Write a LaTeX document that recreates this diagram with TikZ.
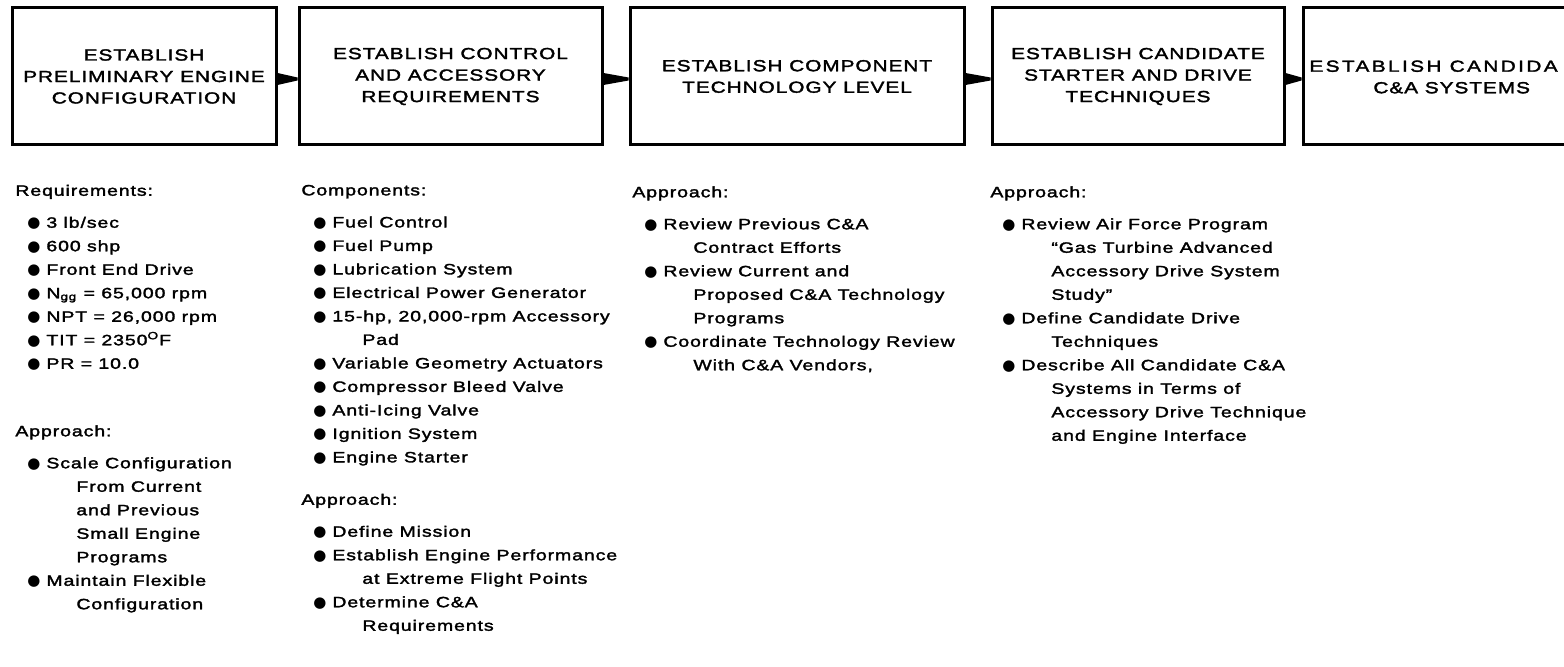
\documentclass[tikz,border=0pt]{standalone}
\usepackage{fontspec}
\setmainfont{Liberation Sans}[FakeStretch=1.3, LetterSpace=6, FakeBold=2]
\newfontfamily\dotfont{DejaVu Sans}
\newcommand{\blt}{\hspace*{6pt}\makebox[9.5pt][l]{\dotfont ●}}
\newcommand{\cnt}{\hspace*{30.5pt}}

\tikzset{
	stage/.style={draw, line width=1.5pt, inner sep=0pt, minimum height=68.5pt, align=center, font=\fontsize{8}{10.75}\selectfont},
	stagetext/.style={inner sep=0pt, align=left, font=\fontsize{8}{10.75}\selectfont},
	notes/.style={anchor=north west, inner sep=0pt, align=left, font=\fontsize{7.5}{11.75}\selectfont},
}

\begin{document}
\begin{tikzpicture}[x=0.5pt, y=-0.5pt]
	\useasboundingbox (0,0) rectangle (1564,667);
	\clip (0,0) rectangle (1564,667);

	% the five stages
	\node[stage, minimum width=132pt] (b1) at (144,76.5) {ESTABLISH\\PRELIMINARY ENGINE\\CONFIGURATION};
	\node[stage, minimum width=151.5pt] (b2) at (450.5,76.5) {ESTABLISH CONTROL\\AND ACCESSORY\\REQUIREMENTS};
	\node[stage, minimum width=167pt] (b3) at (797,76.5) {ESTABLISH COMPONENT\\TECHNOLOGY LEVEL};
	\node[stage, minimum width=146pt] (b4) at (1138,76.5) {ESTABLISH CANDIDATE\\STARTER AND DRIVE\\TECHNIQUES};
	\node[stage, minimum width=198.5pt] (b5) at (1501.5,76.5) {};
	\node[stagetext, anchor=west] (b5t) at (1309,77) {{\addfontfeature{LetterSpace=15}ESTABLISH CANDIDA}\\\hspace*{32pt}C\&A SYSTEMS};

	% tapered links
	\fill ([yshift=1.75pt]b1.east) -- ([yshift=-0.5pt]b2.west) -- ([yshift=-2pt]b2.west) -- ([yshift=-4.25pt]b1.east) -- cycle;
	\fill ([yshift=1.75pt]b2.east) -- ([yshift=-0.5pt]b3.west) -- ([yshift=-2pt]b3.west) -- ([yshift=-4.25pt]b2.east) -- cycle;
	\fill ([yshift=1.75pt]b3.east) -- ([yshift=-0.5pt]b4.west) -- ([yshift=-2pt]b4.west) -- ([yshift=-4.25pt]b3.east) -- cycle;
	\fill ([yshift=1.75pt]b4.east) -- ([yshift=-0.5pt]b5.west) -- ([yshift=-2pt]b5.west) -- ([yshift=-4.25pt]b4.east) -- cycle;

	% notes under the stages
	\node[notes] (req) at (15,184.5) {Requirements:\\[4.25pt]
		\blt 3 lb/sec\\
		\blt 600 shp\\
		\blt Front End Drive\\
		\blt N\textsubscript{gg} = 65,000 rpm\\
		\blt NPT = 26,000 rpm\\
		\blt TIT = 2350\textsuperscript{O}F\\
		\blt PR = 10.0};
	\node[notes] (reqapp) at (15,425) {Approach:\\[4.25pt]
		\blt Scale Configuration\\
		\cnt From Current\\
		\cnt and Previous\\
		\cnt Small Engine\\
		\cnt Programs\\
		\blt Maintain Flexible\\
		\cnt Configuration};

	\node[notes] (comp) at (301,184.5) {Components:\\[4.25pt]
		\blt Fuel Control\\
		\blt Fuel Pump\\
		\blt Lubrication System\\
		\blt Electrical Power Generator\\
		\blt 15-hp, 20,000-rpm Accessory\\
		\cnt Pad\\
		\blt Variable Geometry Actuators\\
		\blt Compressor Bleed Valve\\
		\blt Anti-Icing Valve\\
		\blt Ignition System\\
		\blt Engine Starter};
	\node[notes] (compapp) at (301,493.5) {Approach:\\[4.25pt]
		\blt Define Mission\\
		\blt Establish Engine Performance\\
		\cnt at Extreme Flight Points\\
		\blt Determine C\&A\\
		\cnt Requirements};

	\node[notes] (techapp) at (632,186) {Approach:\\[4.25pt]
		\blt Review Previous C\&A\\
		\cnt Contract Efforts\\
		\blt Review Current and\\
		\cnt Proposed C\&A Technology\\
		\cnt Programs\\
		\blt Coordinate Technology Review\\
		\cnt With C\&A Vendors,};

	\node[notes] (startapp) at (990,186) {Approach:\\[4.25pt]
		\blt Review Air Force Program\\
		\cnt ``Gas Turbine Advanced\\
		\cnt Accessory Drive System\\
		\cnt Study''\\
		\blt Define Candidate Drive\\
		\cnt Techniques\\
		\blt Describe All Candidate C\&A\\
		\cnt Systems in Terms of\\
		\cnt Accessory Drive Technique\\
		\cnt and Engine Interface};
\end{tikzpicture}
\end{document}
